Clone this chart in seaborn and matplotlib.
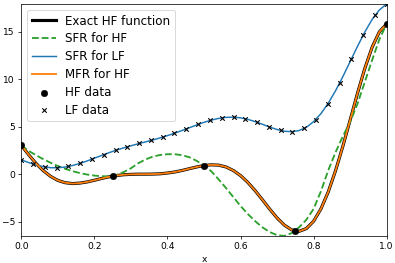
import numpy as np
import pandas as pd
import matplotlib
matplotlib.use("Agg")
import matplotlib.pyplot as plt
import seaborn as sns

# curve grid
x_grid = [0.00, 0.02, 0.04, 0.06, 0.08, 0.10, 0.12, 0.14, 0.16, 0.18,
          0.20, 0.22, 0.24, 0.26, 0.28, 0.30, 0.32, 0.34, 0.36, 0.38,
          0.40, 0.42, 0.44, 0.46, 0.48, 0.50, 0.52, 0.54, 0.56, 0.58,
          0.60, 0.62, 0.64, 0.66, 0.68, 0.70, 0.72, 0.74, 0.76, 0.78,
          0.80, 0.82, 0.84, 0.86, 0.88, 0.90, 0.92, 0.94, 0.96, 0.98, 1.00]

hf_exact = [3.03, 2.05, 1.14, 0.37, -0.23, -0.66, -0.90, -0.99, -0.94, -0.82,
            -0.64, -0.45, -0.28, -0.15, -0.06, -0.02, 0.00, 0.00, 0.01, 0.04,
            0.12, 0.23, 0.39, 0.58, 0.76, 0.91, 0.98, 0.95, 0.76, 0.39,
            -0.15, -0.87, -1.74, -2.70, -3.69, -4.61, -5.37, -5.87, -6.02, -5.73,
            -4.95, -3.65, -1.87, 0.37, 2.94, 5.71, 8.51, 11.12, 13.36, 14.99, 15.83]

sfr_hf = [3.03, 2.45, 2.00, 1.58, 1.20, 0.86, 0.56, 0.32, 0.12, -0.04,
          -0.15, -0.22, -0.23, -0.10, 0.22, 0.62, 1.15, 1.55, 1.85, 2.02,
          2.10, 2.10, 2.00, 1.78, 1.40, 0.91, 0.30, -0.55, -1.45, -2.40,
          -3.35, -4.20, -4.95, -5.60, -6.10, -6.42, -6.50, -6.20, -5.60, -4.80,
          -3.65, -1.80, 0.40, 2.30, 4.00, 5.50, 7.40, 9.70, 12.00, 14.20, 15.83]

sfr_lf = [1.51, 1.22, 0.97, 0.79, 0.68, 0.67, 0.75, 0.91, 1.13, 1.39,
          1.68, 1.97, 2.26, 2.53, 2.77, 2.99, 3.20, 3.40, 3.60, 3.82,
          4.06, 4.32, 4.60, 4.89, 5.18, 5.46, 5.69, 5.87, 5.98, 6.00,
          5.93, 5.77, 5.53, 5.25, 4.95, 4.70, 4.52, 4.47, 4.59, 4.93,
          5.53, 6.37, 7.47, 8.78, 10.27, 11.86, 13.45, 14.96, 16.28, 17.29, 17.92]

mfr_hf = [3.03, 2.05, 1.14, 0.37, -0.23, -0.66, -0.90, -0.99, -0.94, -0.82,
          -0.64, -0.45, -0.28, -0.15, -0.06, -0.02, 0.00, 0.00, 0.01, 0.04,
          0.12, 0.23, 0.39, 0.58, 0.76, 0.91, 0.98, 0.95, 0.76, 0.39,
          -0.15, -0.87, -1.74, -2.70, -3.69, -4.61, -5.37, -5.87, -6.02, -5.73,
          -4.95, -3.65, -1.87, 0.37, 2.94, 5.71, 8.51, 11.12, 13.36, 14.99, 15.83]

# training data
hf_x = [0.0, 0.25, 0.5, 0.75, 1.0]
hf_y = [3.03, -0.21, 0.91, -5.99, 15.83]

lf_x = [0.000, 0.032, 0.065, 0.097, 0.129, 0.161, 0.194, 0.226, 0.258, 0.290,
        0.323, 0.355, 0.387, 0.419, 0.452, 0.484, 0.516, 0.548, 0.581, 0.613,
        0.645, 0.677, 0.710, 0.742, 0.774, 0.806, 0.839, 0.871, 0.903, 0.935,
        0.968, 1.000]
lf_y = [1.51, 1.06, 0.75, 0.67, 0.81, 1.14, 1.59, 2.06, 2.50, 2.88,
        3.23, 3.55, 3.90, 4.30, 4.77, 5.24, 5.65, 5.93, 6.00, 5.83,
        5.46, 5.00, 4.60, 4.47, 4.81, 5.75, 7.40, 9.60, 12.10, 14.60,
        16.75, 17.92]

curves = pd.DataFrame({"x": x_grid, "exact": hf_exact, "sfr_hf": sfr_hf,
                       "sfr_lf": sfr_lf, "mfr_hf": mfr_hf})

fig, ax = plt.subplots(figsize=(395 / 66, 263 / 66), dpi=66)

sns.lineplot(data=curves, x="x", y="exact", color="black", lw=3.4,
             label="Exact HF function", ax=ax)
sns.lineplot(data=curves, x="x", y="sfr_hf", color="#2ca02c", lw=2.0,
             linestyle="--", label="SFR for HF", ax=ax)
sns.lineplot(data=curves, x="x", y="sfr_lf", color="#1f77b4", lw=1.6,
             label="SFR for LF", ax=ax)
sns.lineplot(data=curves, x="x", y="mfr_hf", color="#ff7f0e", lw=2.0,
             label="MFR for HF", ax=ax)
sns.scatterplot(x=hf_x, y=hf_y, color="black", s=50, edgecolor="black",
                label="HF data", zorder=5, ax=ax)
sns.scatterplot(x=lf_x, y=lf_y, color="black", marker="x", s=24,
                linewidth=1.2, label="LF data", zorder=5, ax=ax)

all_y = hf_exact + sfr_hf + sfr_lf + mfr_hf
ax.set_xlim(min(x_grid), max(x_grid))
ax.set_ylim(min(all_y), max(all_y))
ax.set_xlabel("x")
ax.set_ylabel("")
ax.legend(loc="upper left", fontsize=13, labelspacing=0.4)

plt.subplots_adjust(left=0.054, right=0.979, top=0.985, bottom=0.103)
plt.savefig("out.png", dpi=66)
